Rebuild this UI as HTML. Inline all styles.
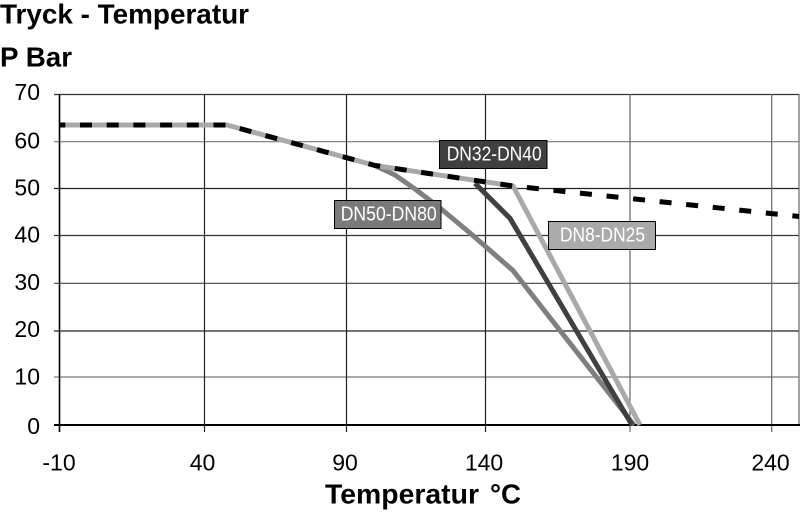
<!DOCTYPE html>
<html><head><meta charset="utf-8"><style>
html,body{margin:0;padding:0;background:#fff;}
svg{display:block;}
text{font-family:"Liberation Sans",sans-serif;}
</style></head><body>
<svg width="800" height="516" viewBox="0 0 800 516" xmlns="http://www.w3.org/2000/svg">
<rect width="800" height="516" fill="#fff"/>
<!-- titles -->
<text x="0" y="23.5" font-size="28" font-weight="bold" textLength="249" lengthAdjust="spacingAndGlyphs">Tryck - Temperatur</text>
<text x="0" y="66.7" font-size="28" font-weight="bold" textLength="72" lengthAdjust="spacingAndGlyphs">P Bar</text>

<!-- horizontal gridlines -->
<g stroke-width="1.2">
<line x1="54" y1="94.5" x2="799" y2="94.5" stroke="#333"/>
<line x1="54" y1="141.7" x2="799" y2="141.7" stroke="#777"/>
<line x1="54" y1="188.5" x2="799" y2="188.5" stroke="#222"/>
<line x1="54" y1="235.5" x2="799" y2="235.5" stroke="#333"/>
<line x1="54" y1="283.3" x2="799" y2="283.3" stroke="#444"/>
<line x1="54" y1="331" x2="799" y2="331" stroke="#222"/>
<line x1="54" y1="377" x2="799" y2="377" stroke="#777"/>
</g>
<!-- vertical gridlines -->
<g stroke-width="1.2">
<line x1="204.5" y1="94" x2="204.5" y2="432" stroke="#222"/>
<line x1="346.5" y1="94" x2="346.5" y2="432" stroke="#222"/>
<line x1="485.5" y1="94" x2="485.5" y2="432" stroke="#222"/>
<line x1="630" y1="94" x2="630" y2="432" stroke="#666"/>
<line x1="771.7" y1="94" x2="771.7" y2="432" stroke="#666"/>
<line x1="799" y1="94" x2="799" y2="425" stroke="#666"/>
</g>
<!-- axes -->
<line x1="59.5" y1="94" x2="59.5" y2="432" stroke="#000" stroke-width="1.6"/>
<line x1="54" y1="425" x2="800" y2="425" stroke="#000" stroke-width="2"/>

<!-- series -->
<g fill="none" stroke-width="5" stroke-linejoin="round">
<polyline points="375,165.5 395,175 415,189 440,208 470,233 513,270.5 634,425" stroke="#7f7f7f"/>
<polyline points="475,183.3 510,218.3 632,425" stroke="#404040"/>
<polyline points="59,125 227,125 375,165.5 513,186 640,425" stroke="#a9a9a9"/>
<polyline points="59,125 227,125 375,165.5 513,186 799,216.5" stroke="#000" stroke-dasharray="12 14.7" stroke-dashoffset="5.7"/>
</g>

<!-- series labels -->
<rect x="439.5" y="140.5" width="107.5" height="28" fill="#404040" stroke="#000" stroke-width="1"/>
<text x="446.7" y="160.7" font-size="20.5" fill="#fff" textLength="95" lengthAdjust="spacingAndGlyphs">DN32-DN40</text>
<rect x="334.5" y="200.5" width="106.5" height="28" fill="#7a7a7a" stroke="#000" stroke-width="1"/>
<text x="340.7" y="220.7" font-size="20.5" fill="#fff" textLength="96" lengthAdjust="spacingAndGlyphs">DN50-DN80</text>
<rect x="548.5" y="221.5" width="107" height="28" fill="#aaaaaa" stroke="#000" stroke-width="1"/>
<text x="560" y="241.7" font-size="20.5" fill="#fff" textLength="85" lengthAdjust="spacingAndGlyphs">DN8-DN25</text>

<!-- y tick labels -->
<g font-size="23" text-anchor="end" fill="#000">
<text x="40" y="100">70</text>
<text x="40" y="148.3">60</text>
<text x="40" y="195.5">50</text>
<text x="40" y="242.7">40</text>
<text x="40" y="290">30</text>
<text x="40" y="337.2">20</text>
<text x="40" y="384.4">10</text>
<text x="40" y="434">0</text>
</g>
<!-- x tick labels -->
<g font-size="23" text-anchor="middle" fill="#000">
<text x="59" y="470.7">-10</text>
<text x="202.5" y="470.7">40</text>
<text x="345" y="470.7">90</text>
<text x="484" y="470.7">140</text>
<text x="630" y="470.7">190</text>
<text x="770.5" y="470.7">240</text>
</g>
<!-- x axis title -->
<text x="325" y="503.3" font-size="28" font-weight="bold" textLength="154" lengthAdjust="spacingAndGlyphs">Temperatur</text>
<text x="490" y="503.3" font-size="28" font-weight="bold" textLength="31" lengthAdjust="spacingAndGlyphs">°C</text>
</svg>
</body></html>
